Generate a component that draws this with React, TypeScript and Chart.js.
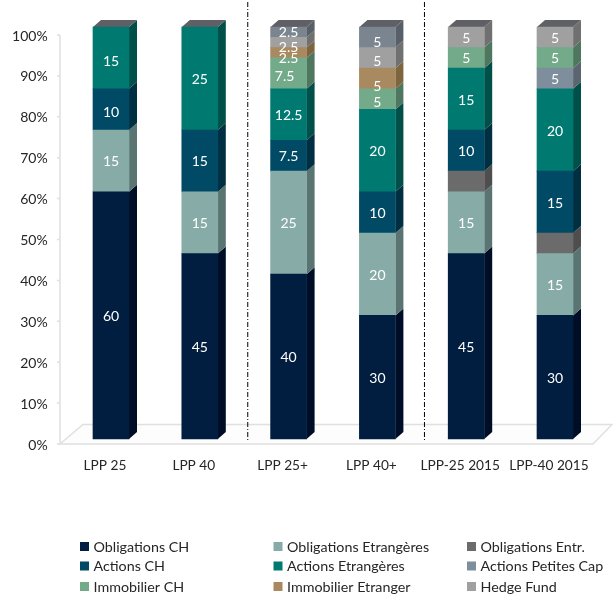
import React, { useEffect, useRef } from "react";
import { Chart, registerables } from "chart.js";

Chart.register(...registerables);

const categories = ["LPP 25", "LPP 40", "LPP 25+", "LPP 40+", "LPP-25 2015", "LPP-40 2015"];
const yTickValues = [0, 10, 20, 30, 40, 50, 60, 70, 80, 90, 100];

const obligationsCH = [60, 45, 40, 30, 45, 30];
const obligationsEtr = [15, 15, 25, 20, 15, 15];
const obligationsEntr = [null, null, null, null, 5, 5];
const actionsCH = [10, 15, 7.5, 10, 10, 15];
const actionsEtr = [15, 25, 12.5, 20, 15, 20];
const actionsPetitesCap = [null, null, null, null, null, 5];
const immobilierCH = [null, null, 7.5, 5, 5, 5];
const immobilierEtr = [null, null, 2.5, 5, null, null];
const hedgeFund = [null, null, 2.5, 5, 5, 5];
const actionsPetitesCapTop = [null, null, 2.5, 5, null, null];

const seriesTable = [
  { label: "Obligations CH", data: obligationsCH, color: "#011d3f", side: "#000d26", legend: true, showLabels: true },
  { label: "Obligations Etrangères", data: obligationsEtr, color: "#87aca8", side: "#5a7472", legend: true, showLabels: true },
  { label: "Obligations Entr.", data: obligationsEntr, color: "#6b6b6b", side: "#4e4e4e", legend: true, showLabels: false },
  { label: "Actions CH", data: actionsCH, color: "#004a66", side: "#002f42", legend: true, showLabels: true },
  { label: "Actions Etrangères", data: actionsEtr, color: "#007a70", side: "#004f49", legend: true, showLabels: true },
  { label: "Actions Petites Cap", data: actionsPetitesCap, color: "#7f8e9c", side: "#5a6570", legend: true, showLabels: true },
  { label: "Immobilier CH", data: immobilierCH, color: "#72aa8a", side: "#4f775f", legend: true, showLabels: true },
  { label: "Immobilier Etranger", data: immobilierEtr, color: "#a98a60", side: "#7d6540", legend: true, showLabels: true },
  { label: "Hedge Fund", data: hedgeFund, color: "#a0a0a0", side: "#707070", legend: true, showLabels: true },
  { label: "Actions Petites Cap ", data: actionsPetitesCapTop, color: "#7b8590", side: "#585f68", legend: false, showLabels: true },
];

// small label shifts in px, keyed "series:category"; everything else uses the default
const labelNudges: Record<string, [number, number]> = {
  "9:2": [0, 0],
  "8:2": [0, 5],
  "7:2": [0, 6],
  "6:2": [-4, 3],
  "6:3": [0, 3],
  "7:3": [0, 8],
  "8:3": [0, 4],
  "9:3": [0, 5],
  "4:0": [0, 4],
  "3:0": [0, 3],
};
const separatorsAt = [1.54, 3.53];
const FONT = "Lato, sans-serif";
const DX = 8;
const DY = 7;

const threeD = {
  id: "threeD",
  beforeDatasetsDraw(chart: any) {
    const { ctx } = chart;
    const yt = chart.scales.yt;
    ctx.save();
    const y0 = yt.getPixelForValue(0);
    const y100 = yt.getPixelForValue(100);
    // floor
    ctx.beginPath();
    ctx.moveTo(60, y0);
    ctx.lineTo(83, y0 - 19.5);
    ctx.lineTo(612, y0 - 19.5);
    ctx.lineTo(593, y0);
    ctx.closePath();
    ctx.fillStyle = "#fdfdfd";
    ctx.fill();
    ctx.strokeStyle = "#e0e0e0";
    ctx.lineWidth = 1.5;
    ctx.stroke();
    // wall line and tick marks
    ctx.beginPath();
    ctx.moveTo(60, y0);
    ctx.lineTo(60, y100);
    for (const v of yTickValues) {
      const py = yt.getPixelForValue(v);
      ctx.moveTo(57, py);
      ctx.lineTo(60, py);
    }
    ctx.stroke();
    // side and top faces
    chart.data.datasets.forEach((ds: any, i: number) => {
      chart.getDatasetMeta(i).data.forEach((el: any, j: number) => {
        if (ds.data[j] == null) return;
        const p = el.getProps(["x", "y", "base", "width"], true);
        const r = p.x + p.width / 2;
        ctx.beginPath();
        ctx.moveTo(r, p.y);
        ctx.lineTo(r + DX, p.y - DY);
        ctx.lineTo(r + DX, p.base - DY);
        ctx.lineTo(r, p.base);
        ctx.closePath();
        ctx.fillStyle = seriesTable[i].side;
        ctx.fill();
        const isTop = chart.data.datasets.slice(i + 1).every((d: any) => d.data[j] == null);
        if (isTop) {
          const l = p.x - p.width / 2;
          ctx.beginPath();
          ctx.moveTo(l, p.y);
          ctx.lineTo(l + DX, p.y - DY);
          ctx.lineTo(r + DX, p.y - DY);
          ctx.lineTo(r, p.y);
          ctx.closePath();
          ctx.fillStyle = "#5f5f66";
          ctx.fill();
        }
      });
    });
    // separators
    ctx.strokeStyle = "#000000";
    ctx.lineWidth = 1;
    ctx.setLineDash([5, 2, 1, 2]);
    for (const s of separatorsAt) {
      const px = chart.scales.x.getPixelForValue(s);
      ctx.beginPath();
      ctx.moveTo(px, 2);
      ctx.lineTo(px, 440);
      ctx.stroke();
    }
    ctx.restore();
  },
  afterDatasetsDraw(chart: any) {
    const { ctx } = chart;
    ctx.save();
    ctx.fillStyle = "#ffffff";
    ctx.font = `14px ${FONT}`;
    ctx.textAlign = "center";
    ctx.textBaseline = "middle";
    chart.data.datasets.forEach((ds: any, i: number) => {
      if (!seriesTable[i].showLabels) return;
      chart.getDatasetMeta(i).data.forEach((el: any, j: number) => {
        const v = ds.data[j];
        if (v == null) return;
        const p = el.getProps(["x", "y", "base"], true);
        const [nx, ny] = labelNudges[`${i}:${j}`] || [0, 1];
        ctx.fillText(String(v), p.x + nx, (p.y + p.base) / 2 + ny);
      });
    });
    ctx.restore();
    // legend
    const cols = [80, 273.5, 467];
    const rows = [547, 566.5, 587];
    const items = seriesTable.filter((s) => s.legend);
    ctx.save();
    ctx.font = `14.3px ${FONT}`;
    ctx.textAlign = "left";
    ctx.textBaseline = "middle";
    items.forEach((s, k) => {
      const x = cols[k % 3];
      const y = rows[Math.floor(k / 3)];
      ctx.fillStyle = s.color;
      ctx.fillRect(x, y - 5, 9, 9);
      ctx.fillStyle = "#262626";
      ctx.fillText(s.label, x + 13.5, y);
    });
    ctx.restore();
  },
};

export default function App() {
  const ref = useRef<HTMLCanvasElement>(null);
  useEffect(() => {
    const chart = new Chart(ref.current!, {
      type: "bar",
      data: {
        labels: categories,
        datasets: seriesTable.map((s) => ({
          label: s.label,
          data: s.data,
          backgroundColor: s.color,
          barThickness: 36,
          yAxisID: "y",
        })),
      } as any,
      options: {
        responsive: false,
        animation: false,
        layout: { padding: { left: 0, right: 13.6, top: 20, bottom: 0 } },
        plugins: { legend: { display: false }, tooltip: { enabled: false } },
        scales: {
          x: {
            stacked: true,
            grid: { display: false, drawTicks: false },
            border: { display: false },
            ticks: { color: "#262626", font: { family: FONT, size: 13.7 }, padding: 7, labelOffset: -6, maxRotation: 0, autoSkip: false },
            afterFit: (s: any) => { s.height = 147; },
          },
          y: { stacked: true, display: false, min: -2.67, max: 101.7 },
          yt: {
            position: "left",
            min: -1.467,
            max: 103.67,
            grid: { display: false, drawTicks: false },
            border: { display: false },
            ticks: { color: "#262626", font: { family: FONT, size: 14 }, padding: 19, labelOffset: 1, callback: (v: any) => `${v}%` },
            afterBuildTicks: (s: any) => { s.ticks = yTickValues.map((value) => ({ value })); },
            afterFit: (s: any) => { s.width = 66.6; s.paddingTop = 0; s.paddingBottom = 0; },
          },
        },
      },
      plugins: [threeD],
    } as any);
    return () => chart.destroy();
  }, []);
  return (
    <div style={{ position: "absolute", left: 0, top: 0, width: 613, height: 597, background: "#fff" }}>
      <canvas ref={ref} width={613} height={597} style={{ display: "block" }} />
    </div>
  );
}
